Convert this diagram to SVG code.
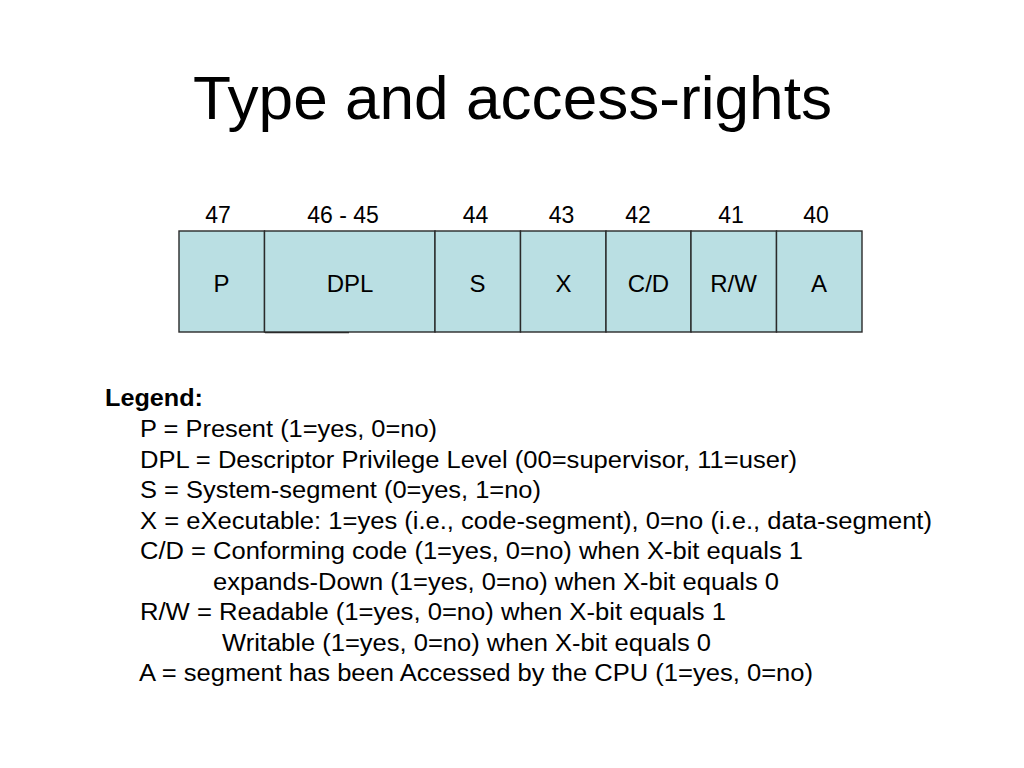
<svg xmlns="http://www.w3.org/2000/svg" width="1024" height="768" viewBox="0 0 1024 768">
<style>
text { font-family: "Liberation Sans", Arial, Helvetica, sans-serif; fill: #000; }
.title { font-size: 61px; }
.num { font-size: 23px; text-anchor: middle; }
.lbl { font-size: 24px; text-anchor: middle; }
.cell { fill: #BADFE3; stroke: #2a2a2a; stroke-width: 1.4; }
.leg { font-size: 23px; }
.legh { font-size: 23px; font-weight: bold; }
</style>
<rect width="1024" height="768" fill="#fff"/>
<text class="title" x="193" y="119" textLength="639" lengthAdjust="spacingAndGlyphs">Type and access-rights</text>

<g id="bit-numbers">
<text class="num" x="218" y="223">47</text>
<text class="num" x="343" y="223">46 - 45</text>
<text class="num" x="475.5" y="223">44</text>
<text class="num" x="561.5" y="223">43</text>
<text class="num" x="638" y="223">42</text>
<text class="num" x="731" y="223">41</text>
<text class="num" x="816" y="223">40</text>
</g>

<g id="field-P"><rect class="cell" x="179" y="231" width="85.5" height="101"/><text class="lbl" x="221.5" y="292">P</text></g>
<g id="field-DPL"><rect class="cell" x="264.5" y="231" width="170.5" height="101"/><line x1="265" y1="332.6" x2="349" y2="332.6" stroke="#2a2a2a" stroke-width="1.2"/><text class="lbl" x="350" y="292">DPL</text></g>
<g id="field-S"><rect class="cell" x="435" y="231" width="85.5" height="101"/><text class="lbl" x="477.5" y="292">S</text></g>
<g id="field-X"><rect class="cell" x="520.5" y="231" width="85.5" height="101"/><text class="lbl" x="563.5" y="292">X</text></g>
<g id="field-CD"><rect class="cell" x="606" y="231" width="85" height="101"/><text class="lbl" x="648.5" y="292">C/D</text></g>
<g id="field-RW"><rect class="cell" x="691" y="231" width="85.5" height="101"/><text class="lbl" x="733.5" y="292">R/W</text></g>
<g id="field-A"><rect class="cell" x="776.5" y="231" width="85.5" height="101"/><text class="lbl" x="819" y="292">A</text></g>

<g id="connectors"></g>

<g id="legend">
<text class="legh" x="105" y="406" textLength="98" lengthAdjust="spacingAndGlyphs">Legend:</text>
<text class="leg" x="140" y="437" textLength="297" lengthAdjust="spacingAndGlyphs">P = Present (1=yes, 0=no)</text>
<text class="leg" x="140" y="467.5" textLength="657" lengthAdjust="spacingAndGlyphs">DPL = Descriptor Privilege Level (00=supervisor, 11=user)</text>
<text class="leg" x="140" y="498" textLength="401" lengthAdjust="spacingAndGlyphs">S = System-segment (0=yes, 1=no)</text>
<text class="leg" x="140" y="528.5" textLength="792" lengthAdjust="spacingAndGlyphs">X = eXecutable: 1=yes (i.e., code-segment), 0=no (i.e., data-segment)</text>
<text class="leg" x="140" y="559" textLength="663" lengthAdjust="spacingAndGlyphs">C/D = Conforming code (1=yes, 0=no) when X-bit equals 1</text>
<text class="leg" x="213" y="589.5" textLength="566" lengthAdjust="spacingAndGlyphs">expands-Down (1=yes, 0=no) when X-bit equals 0</text>
<text class="leg" x="140" y="620" textLength="586" lengthAdjust="spacingAndGlyphs">R/W = Readable (1=yes, 0=no) when X-bit equals 1</text>
<text class="leg" x="222" y="650.5" textLength="489" lengthAdjust="spacingAndGlyphs">Writable (1=yes, 0=no) when X-bit equals 0</text>
<text class="leg" x="139" y="681" textLength="674" lengthAdjust="spacingAndGlyphs">A = segment has been Accessed by the CPU (1=yes, 0=no)</text>
</g>
</svg>
